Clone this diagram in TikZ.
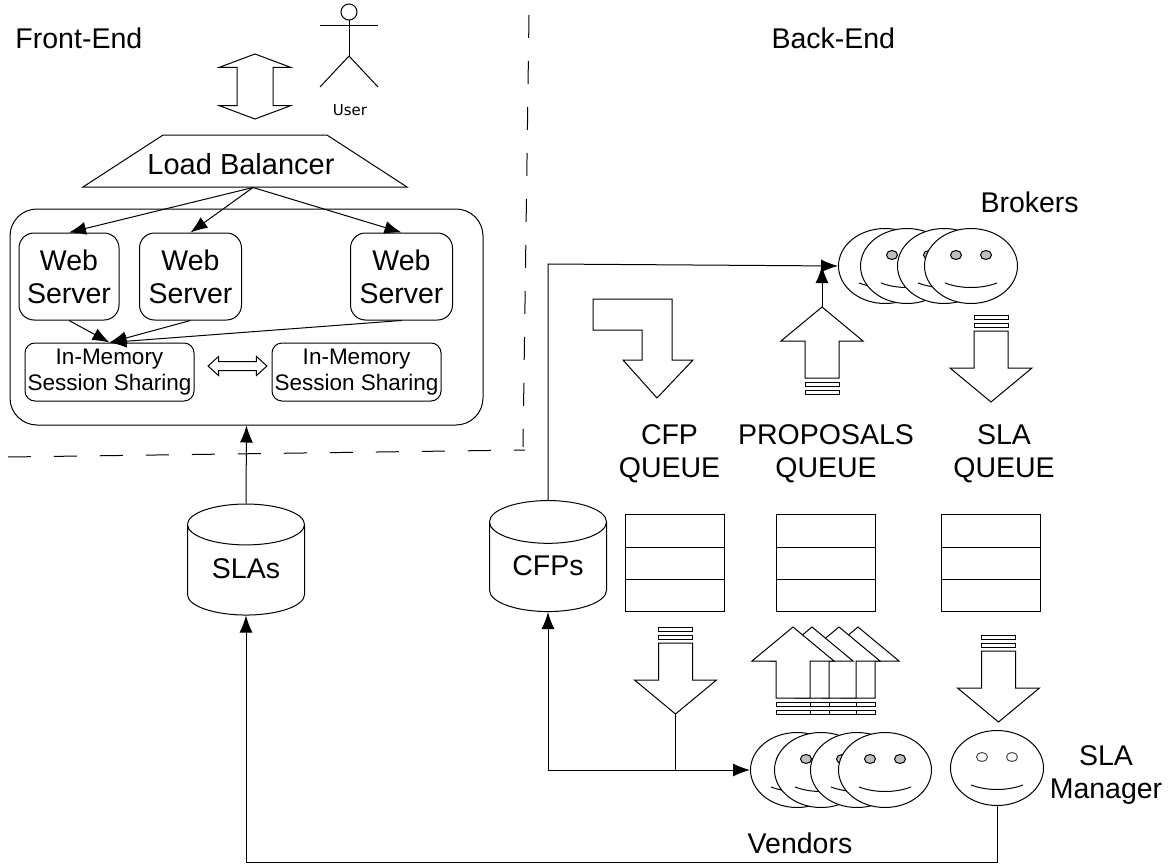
\documentclass[tikz,border=0pt]{standalone}
\usepackage{fontspec}
\setmainfont{Liberation Sans}
\newfontfamily\userfont{DejaVu Sans}
\usetikzlibrary{shapes,arrows.meta,positioning}

% one smiley: name, x, y, eye style
\newcommand{\smiley}[4]{
    \node[facebody] (#1) at (#2,#3) {};
    \begin{scope}[shift={(#2,#3)}]
        \draw[#4] (-15,-11) ellipse [x radius=5.5,y radius=4.5];
        \draw[#4] (15,-11) ellipse [x radius=5.5,y radius=4.5];
        \draw (-26,17) .. controls (-10,23) and (10,23) .. (26,17);
    \end{scope}
}

\begin{document}
\begin{tikzpicture}[
    x=1pt,y=-1pt,
    every path/.style={line width=1pt},
    title/.style={font=\fontsize{28.5}{33}\selectfont,align=center,inner sep=0pt},
    block/.style={rectangle,draw,rounded corners=15pt,minimum width=102pt,minimum height=87pt,inner sep=0pt,align=center,font=\fontsize{28.5}{33}\selectfont},
    memory/.style={rectangle,draw,rounded corners=10pt,minimum width=169pt,minimum height=58pt,inner sep=0pt,align=center,font=\fontsize{22.5}{25.5}\selectfont},
    qcell/.style={rectangle,draw,fill=white,minimum width=99pt,minimum height=32.3pt,inner sep=0pt,outer sep=0pt},
    store/.style={cylinder,shape border rotate=90,draw,fill=white,aspect=0.6,minimum width=117pt,minimum height=111pt,inner sep=0pt,font=\fontsize{28.5}{33}\selectfont},
    facebody/.style={ellipse,draw,fill=white,minimum width=93pt,minimum height=75pt,inner sep=0pt},
    grayeye/.style={draw,fill=black!25},
    whiteeye/.style={draw=black!70,fill=white},
    hollow/.style={double arrow,draw,fill=white,inner sep=0pt},
    divider/.style={draw,dash pattern=on 23pt off 23pt},
    line/.style={draw,-{Latex[length=17pt,width=13pt]}},
    msgarrow/.pic={
        \draw[fill=white] (-17,0) rectangle (17,4);
        \draw[fill=white] (-17,8) rectangle (17,12);
        \draw[fill=white] (-17,16) -- (17,16) -- (17,53) -- (41,53) -- (0,87) -- (-41,53) -- (-17,53) -- cycle;
        \coordinate (-tip) at (0,87);
    }]

    \useasboundingbox (0,0) rectangle (1173,867);

    % Section dividers
    \path[divider] (529,15) -- (523,447);
    \path[divider] (8,457) -- (525,450);
    \node[title,anchor=west] (frontend) at (15,38) {Front-End};
    \node[title,anchor=west] (backend) at (771,38) {Back-End};

    % User
    \node[circle,draw,minimum size=16pt,inner sep=0pt] (head) at (349,12) {};
    \coordinate (hip) at (349,56);
    \coordinate (armleft) at (320,26);
    \coordinate (armright) at (378,26);
    \coordinate (legleft) at (320,87);
    \coordinate (legright) at (378,87);
    \draw (head) -- (hip);
    \draw (armleft) -- (armright);
    \draw (legleft) -- (hip) -- (legright);
    \node[font=\userfont\fontsize{15}{18}\selectfont,inner sep=0pt] (user) at (350,110) {User};
    \node[hollow,rotate=90,minimum height=65pt,double arrow head extend=17.5pt,double arrow tip angle=139] (traffic) at (255,86.5) {\rule{0pt}{35pt}};

    % Load balancer
    \node[trapezium,draw,trapezium stretches body=true,trapezium left angle=33,trapezium right angle=33,minimum width=324pt,inner sep=0pt] (balancer) at (245,161) {\rule{0pt}{52pt}};
    \node[title,font=\fontsize{29}{33}\selectfont] (balancertext) at (241,164) {Load Balancer};
    \coordinate (balancerout) at ([xshift=8pt]balancer.south);

    % Web tier
    \node[rectangle,draw,rounded corners=27pt,minimum width=473pt,minimum height=216pt] (tier) at (246.5,317) {};
    \node[block,minimum width=100pt] (web1) at (69,276.5) {Web\\Server};
    \node[block] (web2) at (190.5,276.5) {Web\\Server};
    \node[block] (web3) at (401.5,276.5) {Web\\Server};
    \node[memory] (mem1) at (109.5,372) {In-Memory\\Session Sharing};
    \node[memory] (mem2) at (356.5,372) {In-Memory\\Session Sharing};
    \node[hollow,minimum height=59pt,double arrow head extend=5pt,double arrow tip angle=84] (sync) at (237.5,366) {\rule{0pt}{8pt}};

    % Connect front-end
    \path[line] (balancerout) -- (web1.north);
    \path[line] (balancerout) -- (web2.north);
    \path[line] (balancerout) -- (web3.north);
    \path[line] (web1.south) -- (mem1.north);
    \path[line] (web2.south) -- (mem1.north);
    \path[line] (web3.south) -- (mem1.north);

    % Stores
    \node[store] (slas) at (246,570) {\raisebox{3pt}{SLAs}};
    \node[store] (cfps) at (548,567) {\raisebox{3pt}{CFPs}};

    % Queues
    \node[qcell] (cfpq1) at (674.5,531) {};
    \node[qcell,below=0pt of cfpq1] (cfpq2) {};
    \node[qcell,below=0pt of cfpq2] (cfpq3) {};
    \node[qcell] (propq1) at (826,531) {};
    \node[qcell,below=0pt of propq1] (propq2) {};
    \node[qcell,below=0pt of propq2] (propq3) {};
    \node[qcell] (slaq1) at (991,531) {};
    \node[qcell,below=0pt of slaq1] (slaq2) {};
    \node[qcell,below=0pt of slaq2] (slaq3) {};
    \node[title,above=31pt of cfpq1.north,xshift=-5pt] (cfptext) {CFP\\QUEUE};
    \node[title,above=31pt of propq1.north] (proptext) {PROPOSALS\\QUEUE};
    \node[title,above=31pt of slaq1.north,xshift=13pt] (slatext) {SLA\\QUEUE};

    % Brokers
    \smiley{broker1}{885}{266}{grayeye}
    \smiley{broker2}{907}{266}{grayeye}
    \smiley{broker3}{944}{266}{grayeye}
    \smiley{broker4}{971}{266}{grayeye}
    \node[title,anchor=west] (brokers) at (980,202) {Brokers};

    % Vendors
    \smiley{vendor1}{797}{770}{grayeye}
    \smiley{vendor2}{821}{770}{grayeye}
    \smiley{vendor3}{857}{770}{grayeye}
    \smiley{vendor4}{885}{770}{grayeye}
    \node[title] (vendors) at (800,843) {Vendors};

    % SLA manager
    \smiley{manager}{997}{768}{whiteeye}
    \node[title] (managertext) at (1106,775) {SLA\\Manager};

    % Message arrows
    \draw[fill=white] (593,299) -- (672,299) -- (672,360) -- (693,360) -- (657,398) -- (623,360) -- (642,360) -- (642,330) -- (593,330) -- cycle;
    \pic[yscale=-1] (propup) at (822,394) {msgarrow};
    \pic (slain) at (991,315) {msgarrow};
    \pic (cfpdown) at (675.5,627) {msgarrow};
    \pic (slaout) at (998.5,635) {msgarrow};
    \foreach \posx in {858,839,812,793}
        \pic[yscale=-1] at (\posx,714) {msgarrow};

    % Connect back-end
    \coordinate (cfpbend) at (548,264);
    \coordinate (cfpjoin) at (cfpdown-tip |- vendor1.west);
    \coordinate (slabend) at (246,862);
    \path[line] (cfps.north) -- (cfpbend) -- (broker1.west);
    \path[line] (propup-tip) -- (propup-tip |- broker1.west);
    \draw (cfpdown-tip) -- (cfpjoin);
    \path[line] (cfpjoin) -- (vendor1.west);
    \path[line] (cfpjoin) -| (cfps.south);
    \path[line] (manager.south) |- (slabend) -- (slas.south);
    \path[line] (slas.north) -- (tier.south);
\end{tikzpicture}
\end{document}
